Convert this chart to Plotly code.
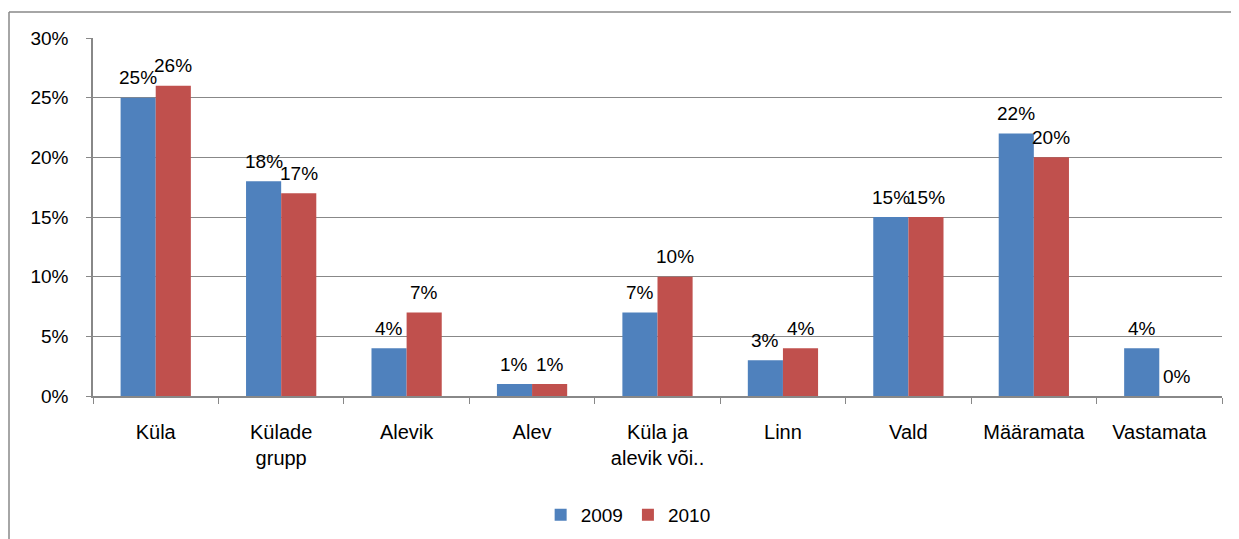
import plotly.graph_objects as go

categories = ["Küla", "Külade<br>grupp", "Alevik", "Alev", "Küla ja<br>alevik või..",
              "Linn", "Vald", "Määramata", "Vastamata"]
y2009 = [25, 18, 4, 1, 7, 3, 15, 22, 4]
y2010 = [26, 17, 7, 1, 10, 4, 15, 20, 0]
y_ticks = [0, 5, 10, 15, 20, 25, 30]

BLUE = "#4F81BD"
RED = "#C0504D"
GRID = "#888888"
FONT = dict(family="Liberation Sans, Arial, sans-serif", size=19, color="#000000")

# page has an 8px body margin, so the figure is a bit smaller than the window
W, H = 1231, 531
L, T, PW, PH = 85, 30, 1129, 358
BARGAP = 0.44

fig = go.Figure()
for name, vals, color in [("2009", y2009, BLUE), ("2010", y2010, RED)]:
    fig.add_trace(go.Bar(
        x=categories, y=vals, name=name,
        marker=dict(color=color, line=dict(width=0)),
    ))

# value labels sitting a little above each bar
bar_w = PW / len(categories) * (1 - BARGAP) / 2
for vals, shift in [(y2009, -bar_w / 2), (y2010, bar_w / 2)]:
    for c, v in zip(categories, vals):
        fig.add_annotation(x=c, y=v, text=f"{v}%", showarrow=False,
                           xshift=shift, yshift=20, yanchor="middle",
                           font=FONT)

fig.update_layout(
    width=W, height=H,
    paper_bgcolor="white", plot_bgcolor="white",
    font=FONT,
    margin=dict(l=L, r=W - L - PW, t=T, b=H - T - PH, autoexpand=False),
    barmode="group", bargap=BARGAP, bargroupgap=0,
    showlegend=True,
    legend=dict(orientation="h", x=0.474, y=-0.332, xanchor="center", yanchor="middle",
                font=FONT, itemwidth=30, traceorder="normal"),
    xaxis=dict(showline=True, linecolor=GRID, linewidth=1.5,
               ticks="outside", tickson="boundaries", ticklen=6, tickcolor=GRID,
               ticklabelstandoff=17, tickfont=dict(FONT, size=20)),
    yaxis=dict(range=[0, 30], tickvals=y_ticks, ticktext=[f"{t}%" for t in y_ticks],
               showline=True, linecolor=GRID, linewidth=1.5,
               showgrid=True, gridcolor=GRID, gridwidth=1.2, zeroline=False,
               ticks="outside", ticklen=5, tickcolor=GRID,
               ticklabelstandoff=14, tickfont=FONT),
)

# outer chart border (only left and top edges fall inside the window)
bx = (1 - L) / PW
by = (T + PH - 4) / PH
fig.add_shape(type="line", xref="paper", yref="paper", x0=bx, x1=1.1, y0=by, y1=by,
              line=dict(color=GRID, width=1.5))
fig.add_shape(type="line", xref="paper", yref="paper", x0=bx, x1=bx, y0=by, y1=-0.6,
              line=dict(color=GRID, width=1.5))

fig.write_html("out.html")
